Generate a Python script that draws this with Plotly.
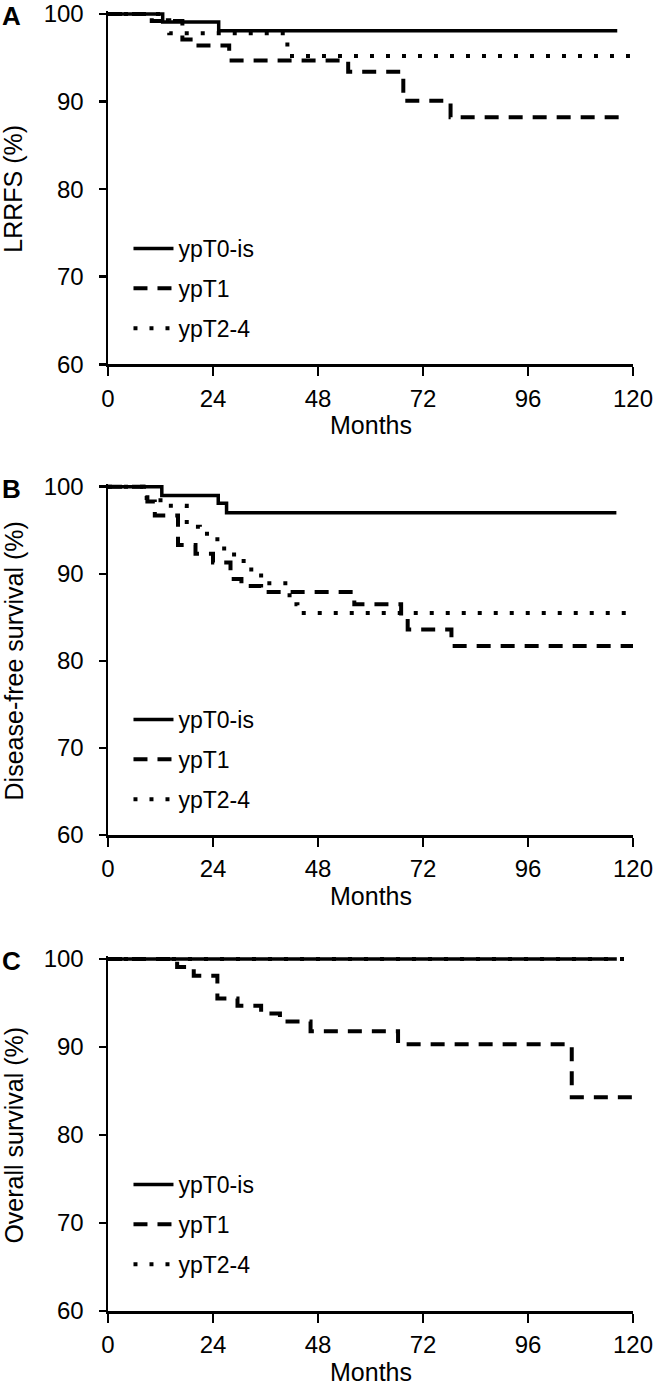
import plotly.graph_objects as go

# ---------------- data ----------------
month_ticks = [0, 24, 48, 72, 96, 120]
pct_ticks = [60, 70, 80, 90, 100]
series_names = ["ypT0-is", "ypT1", "ypT2-4"]
panel_letters = ["A", "B", "C"]
y_titles = ["LRRFS (%)", "Disease-free survival (%)", "Overall survival (%)"]
x_title = "Months"

# Panel A: LRRFS
a_t0_x = [0, 12.5, 25.3, 116.4]
a_t0_y = [100, 99.1, 98.1, 98.1]
a_t1_x = [0, 10, 17, 19.5, 27.7, 54.9, 67.5, 78.3, 117.5]
a_t1_y = [100, 99.2, 97.1, 96.4, 94.7, 93.4, 90.1, 88.2, 88.2]
a_t24_x = [0, 12, 14, 41, 120]
a_t24_y = [100, 99.3, 97.8, 95.2, 95.2]

# Panel B: Disease-free survival
b_t0_x = [0, 12.3, 25.2, 27.1, 116.2]
b_t0_y = [100, 99.0, 98.1, 97.0, 97.0]
b_t1_x = [0, 9, 10.7, 16, 20, 24, 28, 30.5, 35, 56.3, 67.0, 68.5, 78.5, 120]
b_t1_y = [100, 98.3, 96.7, 93.3, 92.3, 91.3, 89.4, 88.6, 87.9, 86.5, 85.0, 83.6, 81.7, 81.7]
b_t24_x = [0, 8, 12, 18, 21, 25, 27.5, 31, 35, 41.5, 43.3, 119]
b_t24_y = [100, 98.7, 97.8, 95.4, 94.6, 92.9, 92.2, 90.5, 88.9, 86.5, 85.5, 85.5]

# Panel C: Overall survival
c_t0_x = [0, 116.3]
c_t0_y = [100, 100]
c_t1_x = [0, 15.8, 19.6, 25, 29.6, 35, 39.3, 46.3, 66.3, 106, 120]
c_t1_y = [100, 99.1, 98.1, 95.5, 94.7, 93.8, 92.9, 91.8, 90.3, 84.3, 84.3]
c_t24_x = [0, 119.5]
c_t24_y = [100, 100]

panels = [
    [(a_t0_x, a_t0_y), (a_t1_x, a_t1_y), (a_t24_x, a_t24_y)],
    [(b_t0_x, b_t0_y), (b_t1_x, b_t1_y), (b_t24_x, b_t24_y)],
    [(c_t0_x, c_t0_y), (c_t1_x, c_t1_y), (c_t24_x, c_t24_y)],
]

# ---------------- layout geometry (pixels) ----------------
W, H = 654, 1390
PL, PR = 107.5, 633.0          # plot left/right pixel
MT, MB = 11, 79
y100_px = [14.0, 486.7, 959.0]
y60_px = [364.3, 835.0, 1311.0]
legend_first_px = [249, 720, 1185]
YTOP = 100.3

def fx(px):
    return (px - PL) / (PR - PL)

def fy(py):
    return (H - MB - py) / (H - MT - MB)

FONT = "Liberation Sans, Arial, Helvetica, sans-serif"
styles = [
    dict(color="black", width=3.5, dash="solid"),
    dict(color="black", width=4, dash="14px,10px"),
    dict(color="black", width=4, dash="4px,12px"),
]

fig = go.Figure()
layout = dict(
    width=W, height=H,
    margin=dict(l=PL, r=W - PR, t=MT, b=MB, autoexpand=False),
    paper_bgcolor="white", plot_bgcolor="white",
    font=dict(family=FONT, size=24, color="black"),
    showlegend=True,
    annotations=[],
)

for i, series in enumerate(panels):
    k = "" if i == 0 else str(i + 1)
    ppu = (y60_px[i] - y100_px[i]) / 40.0
    top_px = y100_px[i] - (YTOP - 100) * ppu
    dom = [fy(y60_px[i]), fy(top_px)]
    leg = "legend" + k
    for j, (xs, ys) in enumerate(series):
        fig.add_trace(go.Scatter(
            x=xs, y=ys, mode="lines", line=dict(shape="hv", **styles[j]),
            name=series_names[j], legend=leg, legendgroup=f"{i}-{j}",
            xaxis="x" + k, yaxis="y" + k, hoverinfo="skip",
        ))
    axis_common = dict(
        showgrid=False, zeroline=False, showline=True, linecolor="black",
        linewidth=2.5, ticks="outside", tickcolor="black", tickwidth=2.5,
        tickfont=dict(family=FONT, size=24, color="black"),
        automargin=False, fixedrange=True,
    )
    layout["xaxis" + k] = dict(
        axis_common, range=[0, 120], tickvals=month_ticks, ticklen=9,
        anchor="y" + k, domain=[0, 1], ticklabelstandoff=2,
    )
    layout["yaxis" + k] = dict(
        axis_common, range=[60, YTOP], tickvals=pct_ticks, ticklen=7,
        anchor="x" + k, domain=dom, ticklabelstandoff=10,
    )
    layout[leg] = dict(
        x=fx(128), y=fy(legend_first_px[i] - 22), xanchor="left", yanchor="top",
        bgcolor="rgba(0,0,0,0)", borderwidth=0, tracegroupgap=7,
        font=dict(family=FONT, size=23, color="black"),
        itemwidth=40,
    )
    layout["annotations"].append(dict(
        text="<b>" + panel_letters[i] + "</b>", xref="paper", yref="paper",
        x=fx(11), y=fy(y100_px[i] + 2), xanchor="center", yanchor="middle",
        showarrow=False, font=dict(family=FONT, size=26, color="black"),
    ))
    layout["annotations"].append(dict(
        text=y_titles[i], xref="paper", yref="paper", textangle=-90,
        x=fx(13), y=fy((y100_px[i] + y60_px[i]) / 2), xanchor="center",
        yanchor="middle", showarrow=False,
        font=dict(family=FONT, size=25, color="black"),
    ))
    layout["annotations"].append(dict(
        text=x_title, xref="paper", yref="paper",
        x=fx((PL + PR) / 2), y=fy(y60_px[i] + 61), xanchor="center",
        yanchor="middle", showarrow=False,
        font=dict(family=FONT, size=25, color="black"),
    ))

fig.update_layout(**layout)
fig.write_html(
    "out.html",
    config={"displayModeBar": False, "staticPlot": True},
    post_script="document.body.style.margin='0px';document.body.style.overflow='hidden';",
)
